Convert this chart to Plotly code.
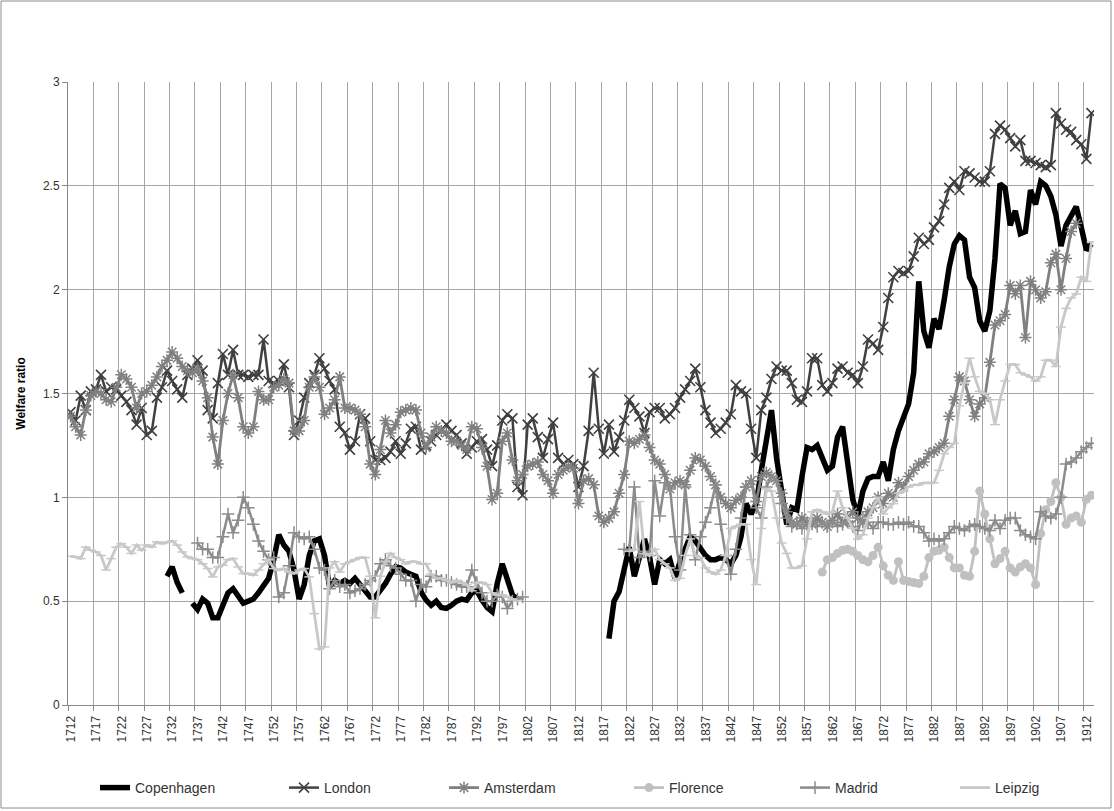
import plotly.graph_objects as go

years = list(range(1712, 1914))

london = [
    1.41, 1.37, 1.49, 1.42, 1.51, 1.52, 1.59, 1.51, 1.53, 1.52,
    1.49, 1.46, 1.42, 1.35, 1.43, 1.30, 1.32, 1.48, 1.53, 1.61,
    1.56, 1.52, 1.48, 1.59, 1.62, 1.66, 1.61, 1.42, 1.38, 1.55,
    1.69, 1.59, 1.71, 1.59, 1.59, 1.58, 1.59, 1.59, 1.76, 1.56,
    1.55, 1.56, 1.64, 1.53, 1.30, 1.37, 1.48, 1.55, 1.59, 1.67,
    1.62, 1.56, 1.52, 1.34, 1.31, 1.23, 1.27, 1.40, 1.38, 1.27,
    1.18, 1.18, 1.19, 1.22, 1.27, 1.21, 1.26, 1.33, 1.34, 1.23,
    1.25, 1.27, 1.30, 1.32, 1.35, 1.32, 1.30, 1.26, 1.21, 1.24,
    1.27, 1.28, 1.23, 1.15, 1.25, 1.37, 1.40, 1.38, 1.05, 1.01,
    1.35, 1.38, 1.29, 1.19, 1.28, 1.36, 1.19, 1.16, 1.18, 1.16,
    1.05, 1.15, 1.32, 1.60, 1.33, 1.21, 1.35, 1.22, 1.29, 1.37,
    1.47, 1.43, 1.39, 1.31, 1.41, 1.43, 1.43, 1.38, 1.40, 1.43,
    1.48, 1.52, 1.56, 1.62, 1.53, 1.42, 1.36, 1.31, 1.33, 1.36,
    1.40, 1.54, 1.51, 1.50, 1.33, 1.19, 1.42, 1.48, 1.57, 1.63,
    1.61, 1.61, 1.55, 1.47, 1.46, 1.51, 1.67, 1.67, 1.54, 1.51,
    1.55, 1.62, 1.63, 1.60, 1.59, 1.55, 1.63, 1.76, 1.74, 1.71,
    1.82, 1.96, 2.06, 2.09, 2.08, 2.09, 2.16, 2.25, 2.22, 2.24,
    2.30, 2.33, 2.41, 2.49, 2.52, 2.48, 2.57, 2.56, 2.54, 2.52,
    2.52, 2.57, 2.75, 2.79, 2.77, 2.73, 2.69, 2.72, 2.62, 2.62,
    2.61, 2.60, 2.59, 2.60, 2.85, 2.80, 2.77, 2.76, 2.72, 2.70,
    2.63, 2.85,
]

amsterdam = [
    1.39, 1.34, 1.30, 1.42, 1.49, 1.51, 1.50, 1.47, 1.46, 1.53,
    1.59, 1.57, 1.53, 1.43, 1.50, 1.51, 1.54, 1.58, 1.63, 1.66,
    1.70, 1.67, 1.63, 1.61, 1.60, 1.62, 1.56, 1.48, 1.29, 1.16,
    1.37, 1.50, 1.59, 1.48, 1.34, 1.31, 1.34, 1.51, 1.47, 1.47,
    1.53, 1.54, 1.57, 1.55, 1.32, 1.32, 1.37, 1.53, 1.58, 1.53,
    1.40, 1.43, 1.47, 1.58, 1.43, 1.43, 1.42, 1.40, 1.34, 1.16,
    1.11, 1.23, 1.37, 1.31, 1.35, 1.41, 1.42, 1.43, 1.42, 1.31,
    1.24, 1.29, 1.34, 1.32, 1.31, 1.27, 1.27, 1.25, 1.23, 1.34,
    1.33, 1.24, 1.15, 0.99, 1.02, 1.27, 1.31, 1.18, 1.08, 1.11,
    1.15, 1.16, 1.17, 1.11, 1.08, 1.02, 1.11, 1.13, 1.15, 1.14,
    0.97, 1.08, 1.09, 1.06, 0.91, 0.88, 0.90, 0.93, 1.02, 1.11,
    1.27, 1.26, 1.28, 1.30, 1.24, 1.18, 1.16, 1.11, 1.04, 1.07,
    1.08, 1.06, 1.13, 1.19, 1.18, 1.15, 1.10, 1.06, 1.00, 0.97,
    0.95, 0.985, 1.00, 1.05, 1.08, 0.98, 1.10, 1.12, 1.10, 1.08,
    1.02, 0.93, 0.88, 0.87, 0.90, 0.88, 0.87, 0.90, 0.88, 0.86,
    0.89, 0.92, 0.88, 0.90, 0.93, 0.90, 0.88, 0.93, 0.95, 1.00,
    0.97, 1.02, 1.00, 1.07, 1.05, 1.10, 1.13, 1.16, 1.17, 1.21,
    1.22, 1.24, 1.26, 1.39, 1.47, 1.58, 1.56, 1.47, 1.39, 1.45,
    1.48, 1.65, 1.83, 1.85, 1.88, 2.02, 1.98, 2.02, 1.77, 2.04,
    2.00, 1.96, 1.99, 2.13, 2.17, 2.00, 2.15, 2.28, 2.32, None,
    None, None,
]

copenhagen = (
    [None] * 19
    + [0.62, 0.665, 0.59, 0.54]
    + [None]
    + [0.49, 0.46, 0.51, 0.49, 0.42, 0.42, 0.48, 0.54, 0.56, 0.52,
       0.49, 0.50, 0.51, 0.54, 0.58, 0.61, 0.70, 0.82, 0.77, 0.74,
       0.65, 0.51, 0.58, 0.72, 0.79, 0.80, 0.72,
       0.57, 0.60, 0.585, 0.60, 0.585, 0.61, 0.58, 0.56, 0.52, 0.52,
       0.55, 0.585, 0.63, 0.665, 0.66, 0.64, 0.63, 0.62, 0.545, 0.505,
       0.48, 0.50, 0.47, 0.465, 0.48, 0.50, 0.51, 0.505, 0.54, 0.55,
       0.505, 0.47, 0.45, 0.585, 0.68, 0.60, 0.53, 0.51]
    + [None] * 17
    + [0.32, 0.50, 0.545, 0.665, 0.76, 0.62, 0.70, 0.80, 0.71, 0.58,
       0.70, 0.68, 0.70, 0.61, 0.69, 0.76, 0.81, 0.79, 0.75, 0.72,
       0.70, 0.70, 0.71, 0.70, 0.68, 0.72, 0.81, 0.97, 0.92, 0.97,
       1.13, 1.29, 1.42, 1.19, 1.03, 0.87, 0.95, 0.94, 1.10, 1.24,
       1.23, 1.25, 1.19, 1.13, 1.15, 1.29, 1.34, 1.15, 0.99, 0.91,
       1.03, 1.09, 1.10, 1.10, 1.17, 1.08, 1.23, 1.32, 1.38, 1.45,
       1.60, 2.04, 1.80, 1.72, 1.86, 1.81, 1.95, 2.11, 2.22, 2.26,
       2.24, 2.06, 2.01, 1.85, 1.80, 1.90, 2.15, 2.51, 2.49, 2.31,
       2.38, 2.27, 2.28, 2.48, 2.41, 2.52, 2.50, 2.45, 2.36, 2.21,
       2.31, 2.36, 2.40, 2.30, 2.19, 2.22]
)

florence = (
    [None] * 148
    + [0.64, 0.70, 0.71, 0.73, 0.745, 0.75, 0.74, 0.72, 0.70, 0.69,
       0.72, 0.76, 0.67, 0.625, 0.60, 0.69, 0.60, 0.595, 0.59, 0.585,
       0.62, 0.71, 0.74, 0.745, 0.76, 0.71, 0.66, 0.66, 0.625, 0.62,
       0.74, 1.03, 0.92, 0.80, 0.68, 0.705, 0.74, 0.66, 0.64, 0.665,
       0.68, 0.66, 0.58, 0.825, 0.94, 0.98, 1.07, 1.00, 0.87, 0.90,
       0.91, 0.88, 0.99, 1.01]
)

madrid = (
    [None] * 25
    + [0.78, 0.75, 0.75, 0.71, 0.71, 0.81, 0.92, 0.83, 0.89, 1.00,
       0.95, 0.87, 0.79, 0.74, 0.70, 0.71, 0.52, 0.54, 0.67, 0.83,
       0.81, 0.80, 0.81, 0.75, 0.66, 0.65, 0.56, 0.60, 0.57, 0.58,
       0.54, 0.55, 0.56, 0.58, 0.60, 0.62, 0.68, 0.70, 0.67, 0.66,
       0.63, 0.60, 0.60, 0.50, 0.58, 0.57, 0.62, 0.62, 0.60, 0.60,
       0.59, 0.58, 0.57, 0.57, 0.65, 0.59, 0.54, 0.50, 0.50, 0.53,
       0.52, 0.465, 0.50, 0.51, 0.52]
    + [None] * 19
    + [0.75, 0.745, 1.05, 0.71, 0.74, 0.72, 1.08, 0.91, 1.07, 1.05,
       0.81, 0.65, 1.05, 0.82, 0.70, 0.81, 0.88, 0.95, 1.06, 0.87,
       0.72, 0.63, 0.75, 0.90, 1.05, 1.08, 0.95, 0.90, 1.05, 1.10,
       1.08, 0.97, 0.90, 0.86, 0.88, 0.85, 0.87, 0.90, 0.86, 0.88,
       0.86, 0.88, 0.86, 0.87, 0.88, 0.86, 0.84, 0.90, 0.88, 0.85,
       0.88, 0.88, 0.87, 0.87, 0.88, 0.87, 0.88, 0.86, 0.86, 0.83,
       0.79, 0.80, 0.79, 0.80, 0.83, 0.86, 0.85, 0.84, 0.86, 0.87,
       0.86, 0.85, 0.84, 0.89, 0.85, 0.89, 0.90, 0.90, 0.84, 0.82,
       0.81, 0.80, 0.93, 0.91, 0.90, 0.92, 1.00, 1.16, 1.17, 1.19,
       1.22, 1.24, 1.26]
)

leipzig = (
    [0.716, 0.713, 0.705, 0.76, 0.745, 0.737, 0.72, 0.65, 0.705, 0.76,
     0.777, 0.76, 0.73, 0.77, 0.745, 0.77, 0.76, 0.785, 0.777, 0.785,
     0.79, 0.77, 0.737, 0.713, 0.705, 0.70, 0.68, 0.657, 0.617, 0.665,
     0.673, 0.70, 0.705, 0.665, 0.633, 0.633, 0.625, 0.65, 0.68, 0.70,
     0.657, 0.65, 0.657, 0.64, 0.633, 0.65, 0.657, 0.617, 0.44, 0.27,
     0.28, 0.66, 0.69, 0.64, 0.68, 0.69, 0.70, 0.71, 0.71, 0.62,
     0.42, 0.62, 0.69, 0.73, 0.71, 0.70, 0.68, 0.69, 0.69, 0.68,
     0.68, 0.63, 0.61, 0.61, 0.60, 0.59, 0.60, 0.59, 0.58, 0.55,
     0.59, 0.59, 0.58, 0.54, 0.53, 0.53, 0.52, 0.51, 0.50]
    + [None] * 21
    + [0.74, 0.75, 0.98, 0.73, 0.72, 0.75, 0.70, 0.68, 0.66, 0.60,
       0.61, 0.72, 0.80, 0.72, 0.71, 0.66, 0.64, 0.63, 0.65, 0.72,
       0.85, 0.86, 0.87, 0.87, 0.70, 0.58, 0.85, 1.04, 1.03, 0.90,
       0.78, 0.73, 0.66, 0.66, 0.67, 0.80, 0.93, 0.94, 0.93, 0.92,
       0.93, 1.03, 0.95, 0.90, 0.85, 0.80, 0.82, 0.90, 0.95, 1.00,
       0.92, 0.95, 0.97, 1.02, 1.03, 1.05, 1.06, 1.06, 1.07, 1.07,
       1.07, 1.13, 1.21, 1.24, 1.26, 1.44, 1.55, 1.67, 1.58, 1.51,
       1.50, 1.47, 1.35, 1.47, 1.56, 1.64, 1.64, 1.60, 1.59, 1.58,
       1.56, 1.58, 1.66, 1.66, 1.63, 1.82, 1.91, 1.96, 1.98, 2.06,
       2.04, 2.23]
)

label_years = list(range(1712, 1913, 5))

FONT = "Liberation Sans"
PLOT_L, PLOT_R, PLOT_T, PLOT_B = 68, 1094, 82, 705
W, H = 1114, 811
PW, PH = PLOT_R - PLOT_L, PLOT_B - PLOT_T

fig = go.Figure()

series = [
    ("Copenhagen", copenhagen, dict(color="#000000", width=5.5), None, "legend"),
    ("London", london, dict(color="#404040", width=2.5),
     dict(symbol="x-thin-open", size=10, line=dict(color="#404040", width=1.6)), "legend2"),
    ("Amsterdam", amsterdam, dict(color="#808080", width=2.8),
     dict(symbol="asterisk-open", size=10, line=dict(color="#808080", width=1.5)), "legend3"),
    ("Florence", florence, dict(color="#c0c0c0", width=2.8),
     dict(symbol="circle", size=9, color="#c0c0c0"), "legend4"),
    ("Madrid", madrid, dict(color="#8c8c8c", width=2.5),
     dict(symbol="cross-thin-open", size=9, line=dict(color="#8c8c8c", width=1.5)), "legend5"),
    ("Leipzig", leipzig, dict(color="#c8c8c8", width=2.8),
     dict(symbol="line-ew-open", size=7, line=dict(color="#c8c8c8", width=1.5)), "legend6"),
]

for name, vals, line, marker, leg in series:
    fig.add_trace(go.Scatter(
        x=years, y=vals, name=name,
        mode="lines" if marker is None else "lines+markers",
        line=line, marker=marker, connectgaps=False, legend=leg,
    ))

legend_px = [95, 284, 444, 629, 795, 955]
legend_common = dict(orientation="h", y=(PLOT_B - 788) / PH, yanchor="middle", xanchor="left",
                     font=dict(family=FONT, size=14, color="#333333"),
                     bgcolor="rgba(0,0,0,0)", itemwidth=30)
layout_legends = {}
for i, px in enumerate(legend_px):
    key = "legend" if i == 0 else f"legend{i+1}"
    layout_legends[key] = dict(legend_common, x=(px - PLOT_L) / PW)

fig.update_layout(
    width=W, height=H,
    margin=dict(l=PLOT_L, r=W - PLOT_R, t=PLOT_T, b=H - PLOT_B, autoexpand=False),
    paper_bgcolor="white", plot_bgcolor="white",
    font=dict(family=FONT, size=12, color="#333333"),
    showlegend=True,
    **layout_legends,
)

fig.update_xaxes(
    range=[1711.5, 1913.5],
    tickmode="array",
    tickvals=[y - 0.5 for y in label_years],
    ticktext=[str(y) for y in label_years],
    ticklabelshift=3,
    tickangle=-90,
    tickfont=dict(family=FONT, size=12, color="#333333"),
    ticks="outside", ticklen=5, tickcolor="#888888",
    showgrid=True, gridcolor="#a6a6a6", gridwidth=1,
    showline=True, linecolor="#888888", linewidth=1,
    zeroline=False,
)
fig.update_yaxes(
    range=[0, 3], dtick=0.5, tick0=0,
    tickfont=dict(family=FONT, size=12, color="#333333"),
    ticks="outside", ticklen=5, tickcolor="#888888",
    showgrid=True, gridcolor="#a6a6a6", gridwidth=1,
    showline=True, linecolor="#888888", linewidth=1,
    zeroline=False,
    title=dict(text="<b>Welfare ratio</b>", font=dict(family=FONT, size=12, color="#000000"),
               standoff=14),
)

# chart-area border
fig.add_shape(type="rect", xref="paper", yref="paper",
              x0=(1 - PLOT_L) / PW, x1=(1111 - PLOT_L) / PW,
              y0=(PLOT_B - 808) / PH, y1=(PLOT_B - 1) / PH,
              line=dict(color="#8c8c8c", width=1), layer="below")

fig.write_html(
    "out.html",
    config={"displayModeBar": False},
    post_script="document.body.style.margin='0';document.body.style.overflow='hidden';",
)
